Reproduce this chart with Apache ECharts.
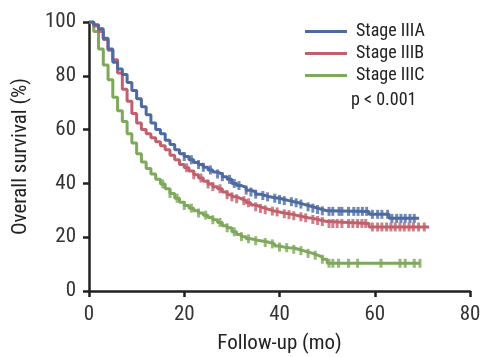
<!DOCTYPE html>
<html>
<head>
<meta charset="utf-8">
<script src="https://cdn.jsdelivr.net/npm/echarts@6/dist/echarts.min.js"></script>
<style>
  html, body { margin: 0; padding: 0; background: #fff; }
  #chart { width: 481px; height: 357px; }
</style>
</head>
<body>
<div id="chart"></div>
<script>
// Kaplan-Meier curves: [month, survival %]
const stageIIIA = [
  [0, 100], [1, 99], [2, 97.5], [3, 94], [4, 90], [5, 85], [6, 82.5], [7, 80.5], [8, 77.5], [9, 74.5],
  [10, 71.5], [11, 68.5], [12, 65.5], [13, 62.5], [14, 60], [15, 58.5], [16, 56], [17, 54.5], [18, 52.5], [19, 51],
  [20, 50], [21, 48.8], [22, 47.8], [23, 47], [24, 46], [25, 45], [26, 44.2], [27, 43.5], [28, 42.5], [29, 41.5],
  [30, 40], [31, 39.2], [32, 38.5], [33, 37.5], [34, 36.8], [35, 36], [36, 35.5], [37, 35], [38, 34.7], [39, 34.5],
  [40, 34], [41, 33.6], [42, 33.2], [43, 32.8], [44, 32.3], [45, 31.8], [46, 31.3], [47, 30.8], [48, 30.3], [49, 29.8],
  [50, 29.6], [58.8, 28.5], [63, 27], [69.3, 27]
];
const stageIIIB = [
  [0, 100], [1, 98.5], [2, 96.5], [3, 93.5], [4, 89.5], [5, 86], [6, 81], [7, 75], [8, 70.5], [9, 66],
  [10, 62.5], [11, 60], [12, 58.5], [13, 57], [14, 55.5], [15, 54], [16, 52.5], [17, 50.5], [18, 48.8], [19, 47],
  [20, 45.8], [21, 44.6], [22, 43.2], [23, 42], [24, 40.8], [25, 39.8], [26, 38.8], [27, 38], [28, 36.8], [29, 35.8],
  [30, 35], [31, 34.3], [32, 33.6], [33, 32.8], [34, 32], [35, 31.3], [36, 30.7], [37, 30.2], [38, 29.7], [39, 29.4],
  [40, 29], [41, 28.7], [42, 28.4], [43, 28], [44, 27.6], [45, 27.2], [46, 27], [47, 26.6], [48, 26.2], [49, 25.8],
  [50, 25.1], [58.8, 23.8], [71.4, 23.8]
];
const stageIIIC = [
  [0, 100], [1, 96.5], [2, 90], [3, 84], [4, 78.5], [5, 72], [6, 67], [7, 63], [8, 58.5], [9, 55],
  [10, 51], [11, 48], [12, 45.5], [13, 43.5], [14, 41.5], [15, 39.8], [16, 38], [17, 36.2], [18, 34.5], [19, 33],
  [20, 31.8], [21, 30.8], [22, 29.8], [23, 29], [24, 28.2], [25, 27.3], [26, 26.5], [27, 25.5], [28, 24.3], [29, 23.5],
  [30, 22], [31, 21], [32, 20.2], [33, 19.4], [34, 19], [35, 18.7], [36, 18.4], [37, 18], [38, 17.5], [39, 16.7],
  [40, 16.3], [41, 16.1], [42, 16], [43, 15.5], [44, 15], [45, 14.5], [46, 14], [47, 13.3], [48, 12.6], [49, 11.8],
  [50, 10.3], [69.5, 10.3]
];

// censored observations (months)
const censorIIIA = [20, 21.5, 23, 24, 25.5, 27, 28, 29.5, 30.5, 31.5, 33, 34, 35, 36.5, 37.5, 39, 40, 41, 42.5, 43.5,
  44.5, 46, 47, 48, 49, 50.4, 51.2, 52.5, 53.1, 54.5, 55.6, 56.5, 57.4, 58.3, 59.5, 60.6, 61.5, 62.7, 63.6, 64.6,
  65.5, 66.4, 67.4, 68.3];
const censorIIIB = [20.5, 22, 23.5, 25, 26, 27.5, 29, 30, 31, 32.5, 33.5, 35, 36, 37, 38.5, 39.5, 41, 42, 43, 44.5,
  45.5, 47, 48, 49, 50.4, 51.2, 52.1, 53.1, 54.5, 55.4, 56.4, 57.3, 58.1, 59.5, 60.6, 61.5, 62.5, 63.4, 64.3, 65.3,
  66.2, 67.2, 68.1, 69.2, 70.4];
const censorIIIC = [15.5, 17, 18.5, 20, 21.5, 23, 24.5, 26, 27.5, 29, 30.5, 32, 33.5, 35, 37, 38.5, 40, 41.5, 43,
  44.5, 46, 47.5, 49, 50.4, 51.2, 52.4, 54.5, 56.4, 61.3, 65.3, 66.4, 68.3, 69.5];

const seriesNames = ['Stage IIIA', 'Stage IIIB', 'Stage IIIC'];
const colors = ['#4d6aa2', '#c1606c', '#7ea85a'];
const xTicks = [0, 20, 40, 60, 80];
const yTicks = [0, 20, 40, 60, 80, 100];

const fontFam = "'Liberation Sans Narrow', 'Roboto Condensed', Roboto, sans-serif";

// survival value at time t from a step curve
function survAt(curve, t) {
  let v = curve[0][1];
  for (const p of curve) {
    if (p[0] <= t) v = p[1];
  }
  return v;
}

const curves = [stageIIIA, stageIIIB, stageIIIC];
const censors = [censorIIIA, censorIIIB, censorIIIC];

const series = [];
curves.forEach((c, i) => {
  series.push({
    name: seriesNames[i],
    type: 'line',
    step: 'end',
    data: c,
    showSymbol: false,
    lineStyle: { color: colors[i], width: 3 },
    itemStyle: { color: colors[i] },
    z: 3 - i
  });
  series.push({
    name: seriesNames[i] + ' censored',
    type: 'scatter',
    data: censors[i].map(t => [t, survAt(c, t)]),
    symbol: 'rect',
    symbolSize: [3, 9],
    itemStyle: { color: colors[i] },
    z: 3 - i
  });
});

const chart = echarts.init(document.getElementById('chart'));
chart.setOption({
  animation: false,
  grid: { left: 89, right: 11, top: 22, bottom: 66, outerBoundsMode: 'none' },
  xAxis: {
    type: 'value',
    min: xTicks[0],
    max: xTicks[xTicks.length - 1],
    interval: 20,
    name: 'Follow-up (mo)',
    nameLocation: 'middle',
    nameGap: 42,
    nameTextStyle: { fontSize: 21, color: '#222', fontFamily: fontFam },
    axisLine: { lineStyle: { color: '#231f20', width: 2.5 } },
    axisTick: { length: 6, lineStyle: { color: '#231f20', width: 2.5 } },
    axisLabel: { fontSize: 21, color: '#333', fontFamily: fontFam, margin: 13 },
    splitLine: { show: false }
  },
  yAxis: {
    type: 'value',
    min: yTicks[0],
    max: yTicks[yTicks.length - 1],
    interval: 20,
    name: 'Overall survival (%)',
    nameLocation: 'middle',
    nameGap: 58,
    nameTextStyle: { fontSize: 21, color: '#222', fontFamily: fontFam },
    axisLine: { show: true, lineStyle: { color: '#231f20', width: 2.5 } },
    axisTick: { show: true, length: 6, lineStyle: { color: '#231f20', width: 2.5 } },
    axisLabel: { fontSize: 21, color: '#333', fontFamily: fontFam, margin: 13 },
    splitLine: { show: false }
  },
  legend: {
    data: seriesNames,
    orient: 'vertical',
    left: 300,
    top: 17,
    itemWidth: 42,
    itemHeight: 3,
    itemGap: 3,
    icon: 'rect',
    textStyle: { fontSize: 18, color: '#222', fontFamily: fontFam, lineHeight: 19, padding: [0, 0, 0, 4] }
  },
  graphic: [{
    type: 'text',
    left: 351,
    top: 91,
    style: { text: 'p < 0.001', fontSize: 18, fill: '#222', fontFamily: fontFam }
  }],
  series: series
});
</script>
</body>
</html>
